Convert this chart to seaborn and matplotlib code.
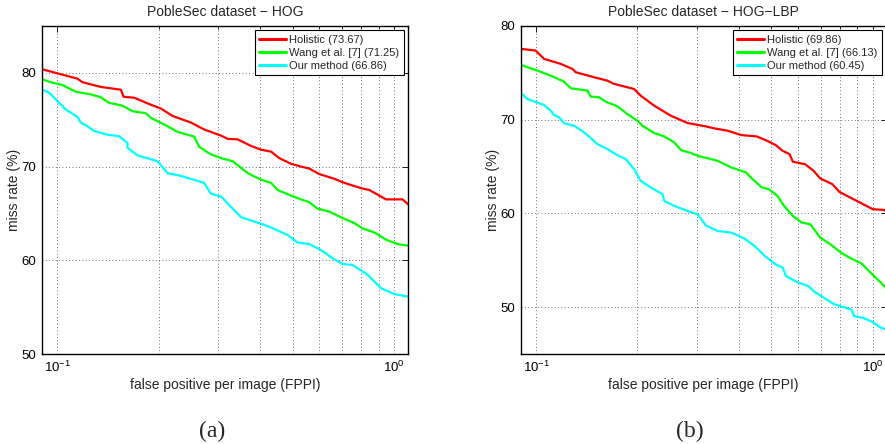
import numpy as np
import pandas as pd
import matplotlib
matplotlib.use("Agg")
import matplotlib.pyplot as plt
import seaborn as sns
from matplotlib.ticker import LogLocator, NullFormatter, FixedLocator

sns.set_style("white")
plt.rcParams["font.family"] = ["Liberation Sans", "DejaVu Sans"]
plt.rcParams["mathtext.fontset"] = "custom"
plt.rcParams["mathtext.rm"] = "Liberation Sans"
plt.rcParams["mathtext.it"] = "Liberation Sans:italic"

# ---- HOG: FPPI vs. miss rate (%) ----
hog_holistic_fppi = [0.0903, 0.100, 0.1147, 0.1187, 0.1345, 0.1544, 0.1572, 0.169, 0.1895, 0.2029,
                     0.2198, 0.2491, 0.2728, 0.3064, 0.3207, 0.3432, 0.376, 0.4024, 0.4311, 0.4561,
                     0.494, 0.5291, 0.5599, 0.5996, 0.6643, 0.7116, 0.7973, 0.844, 0.9467, 1.06, 1.107]
hog_holistic_mr = [80.37, 79.95, 79.38, 79.0, 78.5, 78.2, 77.45, 77.35, 76.6, 76.2,
                   75.4, 74.7, 73.96, 73.3, 72.96, 72.9, 72.2, 71.8, 71.6, 70.9,
                   70.3, 70.0, 69.79, 69.2, 68.7, 68.26, 67.7, 67.5, 66.5, 66.5, 65.9]

hog_wang_fppi = [0.0903, 0.0966, 0.1035, 0.1134, 0.1256, 0.1345, 0.1424, 0.1561, 0.1672, 0.183,
                 0.1895, 0.2124, 0.2276, 0.2548, 0.2638, 0.2857, 0.3064, 0.3316, 0.3675, 0.4024,
                 0.4311, 0.4511, 0.494, 0.5291, 0.5599, 0.593, 0.6419, 0.7038, 0.7617, 0.8062,
                 0.8739, 0.9467, 1.024, 1.107]
hog_wang_mr = [79.3, 78.95, 78.7, 77.99, 77.7, 77.4, 76.8, 76.5, 75.9, 75.7,
               75.2, 74.3, 73.7, 73.2, 72.1, 71.3, 70.9, 70.57, 69.3, 68.6,
               68.26, 67.5, 66.9, 66.5, 66.2, 65.5, 65.2, 64.5, 63.98, 63.4,
               62.97, 62.2, 61.73, 61.55]

hog_ours_fppi = [0.0903, 0.0944, 0.100, 0.1058, 0.1147, 0.1173, 0.1228, 0.1285, 0.1408, 0.1526,
                 0.1615, 0.1616, 0.1729, 0.1984, 0.2124, 0.2328, 0.2728, 0.2857, 0.3064, 0.3511,
                 0.4024, 0.4311, 0.4829, 0.517, 0.5599, 0.6059, 0.6576, 0.7038, 0.7534, 0.8347,
                 0.914, 1.0, 1.107]
hog_ours_mr = [78.2, 77.9, 77.0, 76.1, 75.3, 74.7, 74.3, 73.8, 73.4, 73.24,
               72.5, 72.0, 71.2, 70.57, 69.3, 69.0, 68.26, 67.1, 66.8, 64.6,
               63.9, 63.5, 62.7, 61.9, 61.73, 61.1, 60.2, 59.6, 59.5, 58.45,
               57.03, 56.4, 56.1]

# ---- HOG-LBP: FPPI vs. miss rate (%) ----
lbp_holistic_fppi = [0.090, 0.0997, 0.1056, 0.1183, 0.1282, 0.1311, 0.1487, 0.1628, 0.1704, 0.1954,
                     0.2044, 0.2242, 0.2512, 0.2815, 0.3188, 0.3379, 0.3712, 0.4069, 0.4521, 0.4855,
                     0.515, 0.5398, 0.5659, 0.5793, 0.629, 0.6673, 0.6982, 0.7587, 0.7956, 0.8639,
                     0.9276, 1.0, 1.085, 1.1]
lbp_holistic_mr = [77.56, 77.38, 76.49, 75.96, 75.42, 75.07, 74.53, 74.17, 73.82, 73.28,
                   72.57, 71.5, 70.43, 69.65, 69.29, 69.08, 68.82, 68.36, 68.22, 67.75,
                   67.29, 66.68, 66.33, 65.51, 65.26, 64.55, 63.73, 63.12, 62.3, 61.63,
                   61.06, 60.45, 60.37, 60.1]

lbp_wang_fppi = [0.090, 0.1009, 0.1105, 0.1211, 0.1268, 0.1421, 0.1453, 0.1538, 0.161, 0.1743,
                 0.1867, 0.200, 0.2069, 0.2242, 0.2402, 0.2574, 0.2693, 0.2885, 0.3055, 0.3158,
                 0.3456, 0.3797, 0.4202, 0.4395, 0.4686, 0.491, 0.5211, 0.5452, 0.5793, 0.6149,
                 0.6525, 0.6982, 0.7492, 0.8039, 0.8639, 0.9276, 0.9745, 1.046, 1.1]
lbp_wang_mr = [75.85, 75.24, 74.7, 74.06, 73.36, 73.1, 72.46, 72.4, 71.92, 71.43,
               70.6, 69.89, 69.36, 68.58, 68.22, 67.58, 66.76, 66.44, 66.09, 65.98,
               65.62, 64.91, 64.37, 63.66, 62.77, 62.59, 61.87, 60.8, 59.73, 59.03,
               58.84, 57.42, 56.7, 55.82, 55.18, 54.64, 53.85, 52.78, 51.97]

lbp_ours_fppi = [0.090, 0.0942, 0.1056, 0.1105, 0.1131, 0.117, 0.1211, 0.1297, 0.1389, 0.1521,
                 0.1628, 0.1743, 0.1846, 0.1954, 0.2044, 0.219, 0.2375, 0.2402, 0.2574, 0.2815,
                 0.3018, 0.3188, 0.3456, 0.3797, 0.4155, 0.4458, 0.4779, 0.515, 0.5398, 0.5527,
                 0.5964, 0.643, 0.6675, 0.7152, 0.7701, 0.8639, 0.8804, 0.9355, 1.0, 1.05, 1.1]
lbp_ours_mr = [72.86, 72.21, 71.57, 70.96, 70.5, 70.26, 69.62, 69.36, 68.65, 67.4,
               66.87, 66.22, 65.8, 64.73, 63.48, 62.77, 62.05, 61.34, 60.8, 60.27,
               59.91, 58.74, 58.13, 57.96, 57.32, 56.52, 55.45, 54.57, 54.21, 53.32,
               52.67, 52.25, 51.71, 51.0, 50.29, 49.75, 49.04, 48.87, 48.4, 47.86, 47.6]

hog_labels = ["Holistic (73.67)", "Wang et al. [7] (71.25)", "Our method (66.86)"]
lbp_labels = ["Holistic (69.86)", "Wang et al. [7] (66.13)", "Our method (60.45)"]
titles = ["PobleSec dataset \u2212 HOG", "PobleSec dataset \u2212 HOG\u2212LBP"]
panel_tags = ["(a)", "(b)"]
colors = ["#ff0000", "#00ff00", "#00ffff"]


def long_frame(curves, labels):
    parts = []
    for (fppi, mr), lab in zip(curves, labels):
        parts.append(pd.DataFrame({"fppi": fppi, "mr": mr, "method": lab}))
    return pd.concat(parts, ignore_index=True)


df_hog = long_frame([(hog_holistic_fppi, hog_holistic_mr),
                     (hog_wang_fppi, hog_wang_mr),
                     (hog_ours_fppi, hog_ours_mr)], hog_labels)
df_lbp = long_frame([(lbp_holistic_fppi, lbp_holistic_mr),
                     (lbp_wang_fppi, lbp_wang_mr),
                     (lbp_ours_fppi, lbp_ours_mr)], lbp_labels)

fig = plt.figure(figsize=(8.85, 4.44), dpi=100)
W, H = 885.0, 444.0
ax_a = fig.add_axes([42 / W, 90 / H, 366 / W, 328 / H])
ax_b = fig.add_axes([520.7 / W, 90 / H, 366 / W, 328 / H])

setups = [(ax_a, df_hog, hog_labels, (50, 85), titles[0]),
          (ax_b, df_lbp, lbp_labels, (45, 80), titles[1])]

for ax, df, labels, ylim, title in setups:
    sns.lineplot(data=df, x="fppi", y="mr", hue="method", hue_order=labels,
                 palette=colors, sort=False, estimator=None, units="method",
                 linewidth=1.6, ax=ax, legend=False)
    ax.set_xscale("log")
    ax.set_xlim(0.09, 1.1)
    ax.set_ylim(*ylim)
    ax.yaxis.set_major_locator(FixedLocator([50, 60, 70, 80]))
    ax.xaxis.set_major_locator(LogLocator(base=10))
    ax.xaxis.set_minor_locator(LogLocator(base=10, subs=np.arange(2, 10)))
    ax.xaxis.set_minor_formatter(NullFormatter())
    ax.grid(True, which="major", axis="both", color="#444444",
            linestyle=(0, (1, 3)), linewidth=0.6)
    ax.grid(True, which="minor", axis="x", color="#444444",
            linestyle=(0, (1, 3)), linewidth=0.6)
    for s in ax.spines.values():
        s.set_color("black")
        s.set_linewidth(1.0)
    ax.tick_params(which="both", direction="in", top=True, right=True,
                   labelsize=9.5, colors="black", length=4, width=0.6, pad=4)
    ax.tick_params(which="minor", length=2)
    ax.set_xlabel("false positive per image (FPPI)", fontsize=10, labelpad=2)
    ax.set_ylabel("miss rate (%)", fontsize=10, labelpad=0.5)
    ax.set_title(title, fontsize=10, pad=7)
    handles = [plt.Line2D([], [], color=c, linewidth=2.2) for c in colors]
    leg = ax.legend(handles, labels, loc="upper right", fontsize=8,
                    frameon=True, fancybox=False, framealpha=1, edgecolor="black",
                    borderaxespad=0.4, handlelength=2.4, handletextpad=0.3,
                    labelspacing=0.27, borderpad=0.4)
    leg.get_frame().set_linewidth(0.8)

fig.text(212 / W, 1 - 431 / H, panel_tags[0], ha="center", va="center",
         family="Liberation Serif", fontsize=17)
fig.text(690 / W, 1 - 431 / H, panel_tags[1], ha="center", va="center",
         family="Liberation Serif", fontsize=17)

fig.savefig("out.png", dpi=100, facecolor="white")
